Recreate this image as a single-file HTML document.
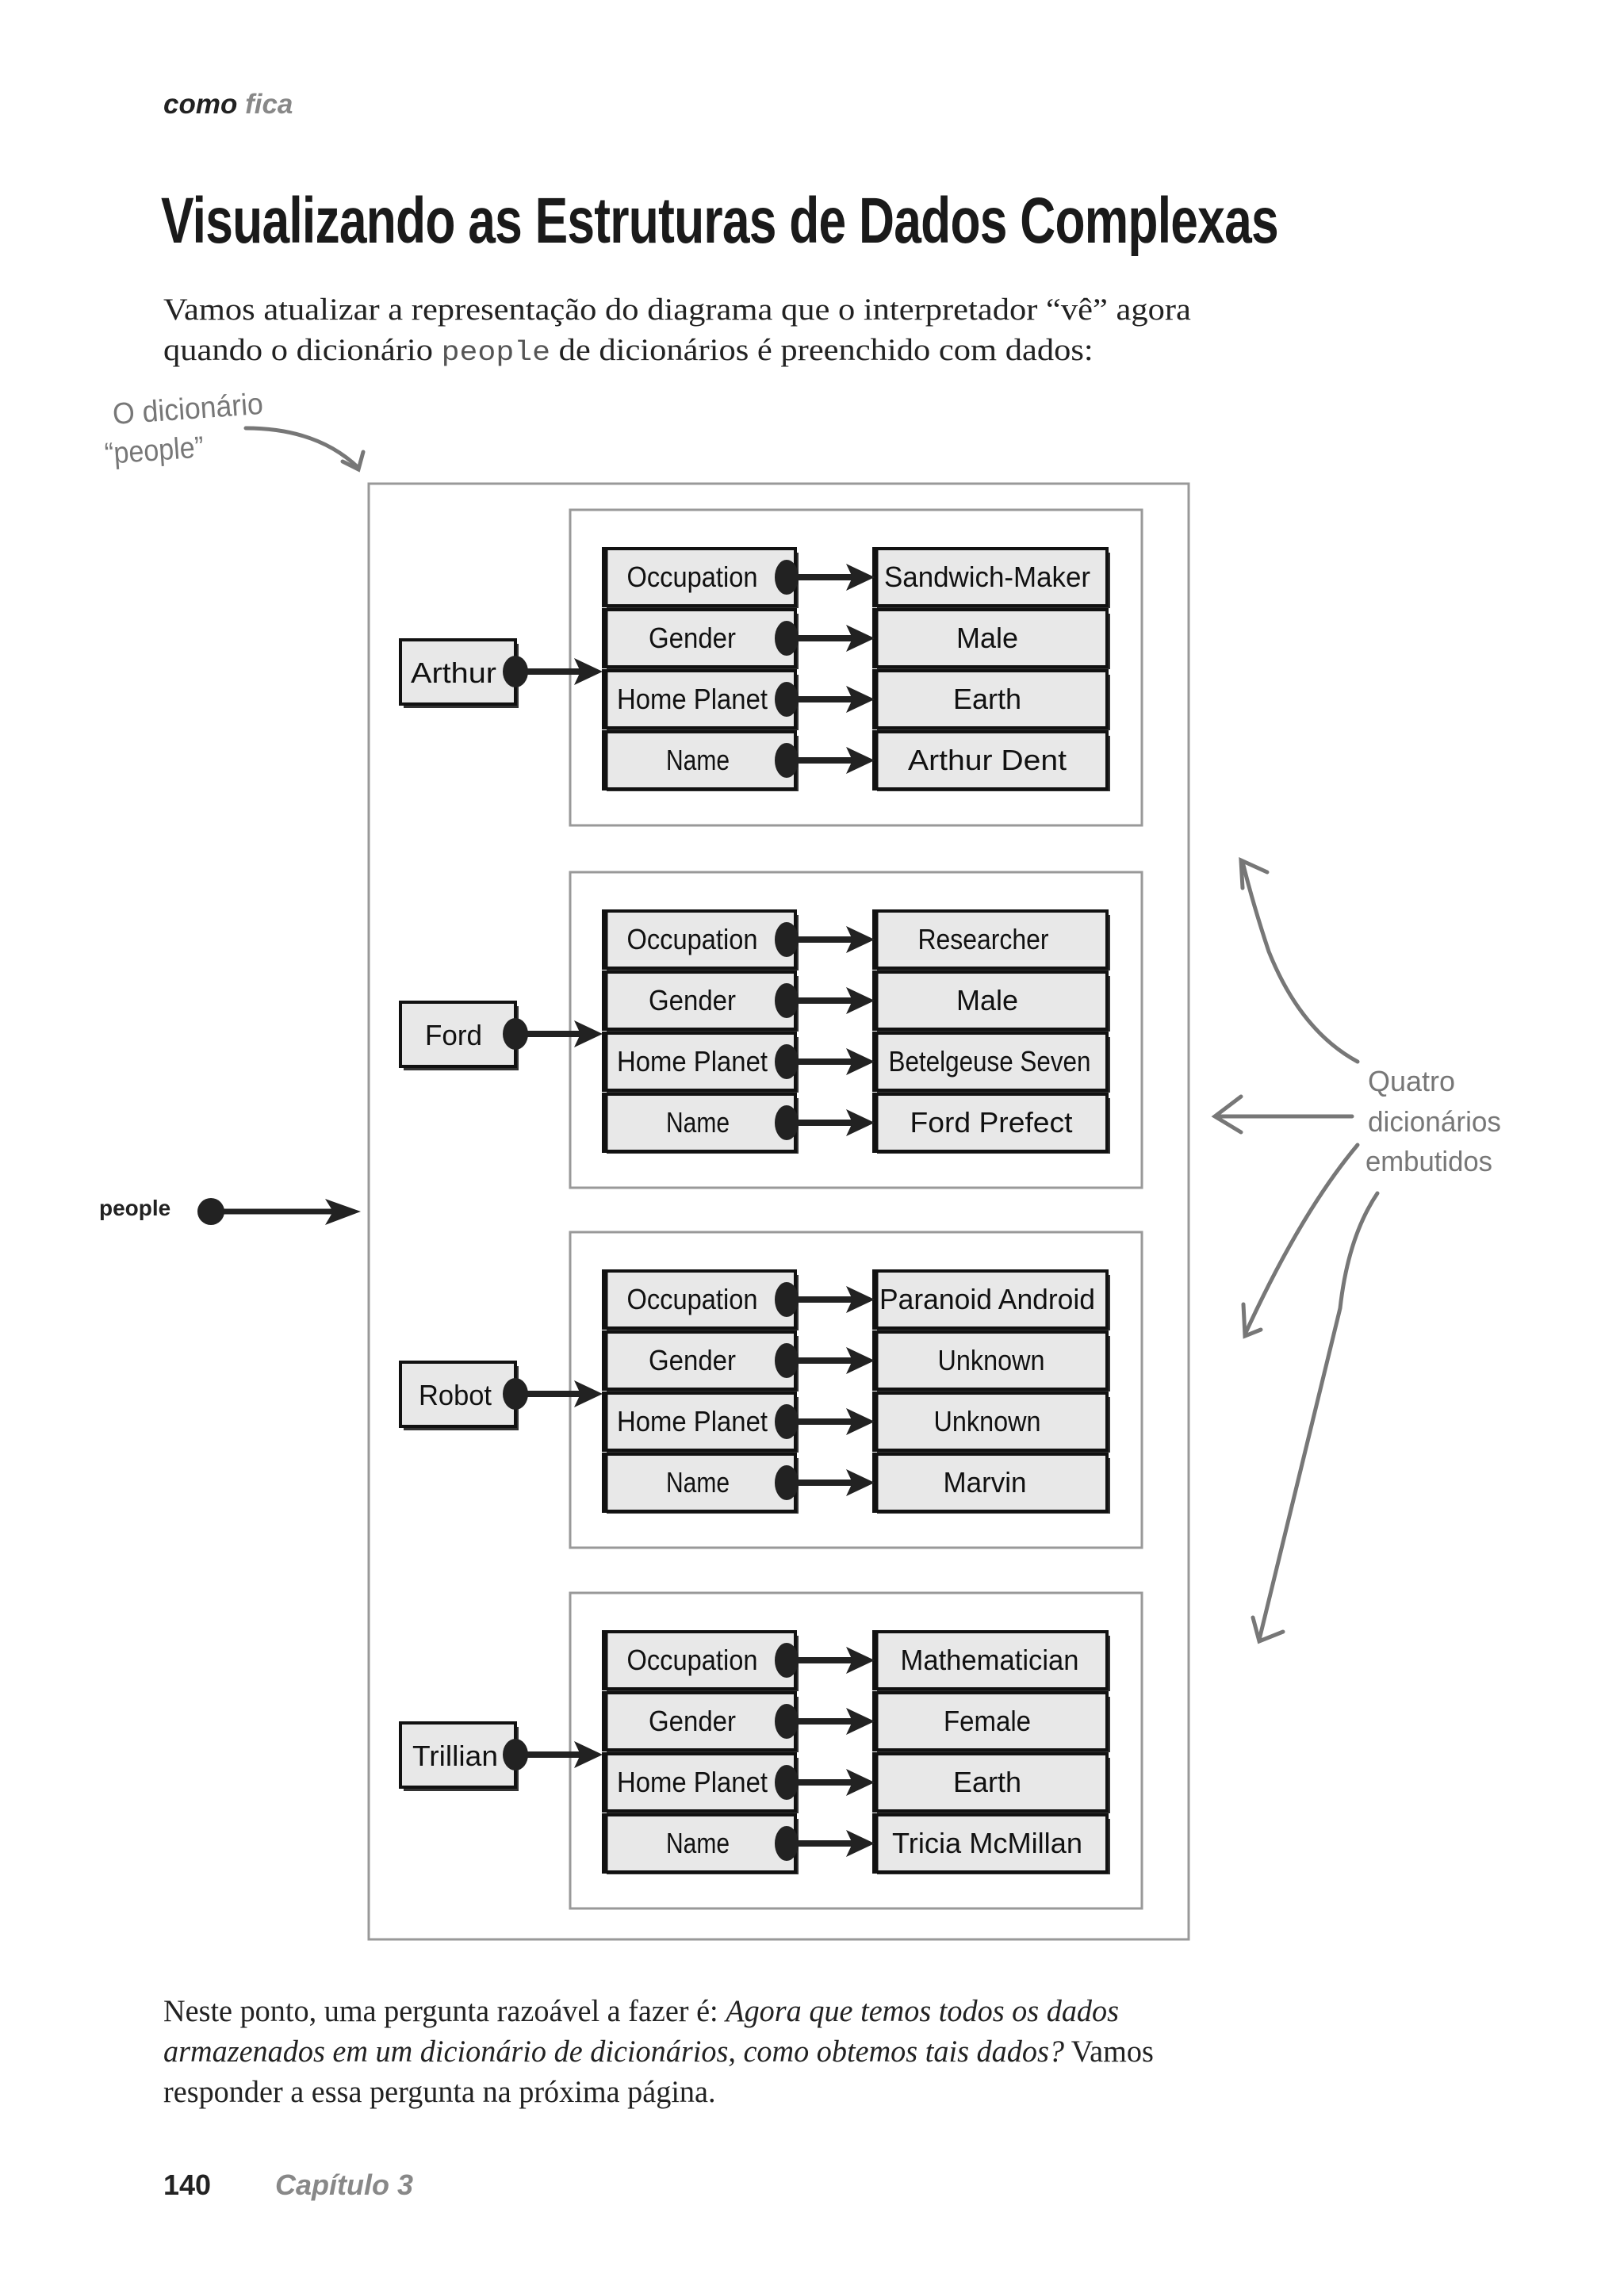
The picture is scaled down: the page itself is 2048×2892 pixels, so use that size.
<!DOCTYPE html>
<html><head><meta charset="utf-8"><style>
body{margin:0;background:#fff;}
#p{position:relative;width:2048px;height:2892px;overflow:hidden;background:#fff;}
.t{position:absolute;white-space:nowrap;transform-origin:left top;}
.ser{font-family:"Liberation Serif",serif;font-size:39px;color:#222;}
</style></head><body><div id="p">
<div class="t" style="left:206px;top:112px;font-family:'Liberation Sans',sans-serif;font-weight:bold;font-style:italic;font-size:35px;color:#222">como <span style="color:#888">fica</span></div>
<div class="t" style="left:203px;top:232px;font-family:'Liberation Sans',sans-serif;font-weight:bold;font-size:82px;color:#1a1a1a;letter-spacing:-1px;transform:scaleX(0.76)">Visualizando as Estruturas de Dados Complexas</div>
<div class="t ser" style="left:206px;top:368px;transform:scaleX(1.09)">Vamos atualizar a representação do diagrama que o interpretador “vê” agora</div>
<div class="t ser" style="left:206px;top:419px;transform:scaleX(1.09)">quando o dicionário <span style="font-family:'Liberation Mono',monospace;font-size:35px;color:#555">people</span> de dicionários é preenchido com dados:</div>
<div class="t ser" style="left:206px;top:2514px;transform:scaleX(0.98)">Neste ponto, uma pergunta razoável a fazer é: <i>Agora que temos todos os dados</i></div>
<div class="t ser" style="left:206px;top:2565px;transform:scaleX(0.98)"><i>armazenados em um dicionário de dicionários, como obtemos tais dados?</i> Vamos</div>
<div class="t ser" style="left:206px;top:2616px;transform:scaleX(0.98)">responder a essa pergunta na próxima página.</div>
<div class="t" style="left:206px;top:2735px;font-family:'Liberation Sans',sans-serif;font-weight:bold;font-size:36px;color:#222">140</div>
<div class="t" style="left:347px;top:2735px;font-family:'Liberation Sans',sans-serif;font-weight:bold;font-style:italic;font-size:36px;color:#888">Capítulo 3</div>

<svg width="2048" height="2892" style="position:absolute;left:0;top:0" xmlns="http://www.w3.org/2000/svg">
<defs>
<g id="kc"><rect x="4" y="5" width="242" height="70" fill="#333"/><rect x="0" y="0" width="242" height="72" fill="#e8e8e8" stroke="#111" stroke-width="4"/><line x1="2" y1="2" x2="2" y2="70" stroke="#111" stroke-width="7"/></g>
<g id="vc"><rect x="4" y="5" width="294" height="70" fill="#333"/><rect x="0" y="0" width="294" height="72" fill="#e8e8e8" stroke="#111" stroke-width="4"/><line x1="2" y1="2" x2="2" y2="70" stroke="#111" stroke-width="7"/></g>
<g id="nc"><rect x="4" y="5" width="145" height="81" fill="#333"/><rect x="0" y="0" width="145" height="81" fill="#e8e8e8" stroke="#111" stroke-width="4"/></g>
<g id="ar"><line x1="0" y1="0" x2="80" y2="0" stroke="#222" stroke-width="8"/><path d="M72 -17 L108 0 L72 17 L80 0 Z" fill="#222"/></g>
<g id="row"><use href="#kc" x="761"/><use href="#vc" x="1102"/><ellipse cx="992" cy="36" rx="15" ry="22" fill="#222"/><use href="#ar" x="995" y="36"/></g>
<g id="blk">
<rect x="719" y="0" width="721" height="398" fill="none" stroke="#999" stroke-width="3"/>
<use href="#row" y="49"/><use href="#row" y="126"/><use href="#row" y="203"/><use href="#row" y="280"/>
<use href="#nc" x="505" y="164"/><ellipse cx="650" cy="204" rx="16" ry="20" fill="#222"/><use href="#ar" x="652" y="204"/>
</g>
</defs>
<rect x="465" y="610" width="1034" height="1836" fill="none" stroke="#999" stroke-width="3"/>
<g font-family="'Liberation Sans',sans-serif" font-size="36" fill="#111" text-anchor="middle">
<g transform="translate(0,643)"><use href="#blk"/>
<text x="873" y="97" textLength="165" lengthAdjust="spacingAndGlyphs">Occupation</text><text x="873" y="174" textLength="110" lengthAdjust="spacingAndGlyphs">Gender</text><text x="873" y="251" textLength="190" lengthAdjust="spacingAndGlyphs">Home Planet</text><text x="880" y="328" textLength="80" lengthAdjust="spacingAndGlyphs">Name</text>
<text x="1245" y="97" textLength="260" lengthAdjust="spacingAndGlyphs">Sandwich-Maker</text><text x="1245" y="174">Male</text><text x="1245" y="251">Earth</text><text x="1245" y="328" textLength="200" lengthAdjust="spacingAndGlyphs">Arthur Dent</text>
<text x="572" y="218" textLength="108" lengthAdjust="spacingAndGlyphs">Arthur</text></g>
<g transform="translate(0,1100)"><use href="#blk"/>
<text x="873" y="97" textLength="165" lengthAdjust="spacingAndGlyphs">Occupation</text><text x="873" y="174" textLength="110" lengthAdjust="spacingAndGlyphs">Gender</text><text x="873" y="251" textLength="190" lengthAdjust="spacingAndGlyphs">Home Planet</text><text x="880" y="328" textLength="80" lengthAdjust="spacingAndGlyphs">Name</text>
<text x="1240" y="97" textLength="165" lengthAdjust="spacingAndGlyphs">Researcher</text><text x="1245" y="174">Male</text><text x="1248" y="251" textLength="255" lengthAdjust="spacingAndGlyphs">Betelgeuse Seven</text><text x="1250" y="328" textLength="205" lengthAdjust="spacingAndGlyphs">Ford Prefect</text>
<text x="572" y="218" textLength="72" lengthAdjust="spacingAndGlyphs">Ford</text></g>
<g transform="translate(0,1554)"><use href="#blk"/>
<text x="873" y="97" textLength="165" lengthAdjust="spacingAndGlyphs">Occupation</text><text x="873" y="174" textLength="110" lengthAdjust="spacingAndGlyphs">Gender</text><text x="873" y="251" textLength="190" lengthAdjust="spacingAndGlyphs">Home Planet</text><text x="880" y="328" textLength="80" lengthAdjust="spacingAndGlyphs">Name</text>
<text x="1245" y="97" textLength="272" lengthAdjust="spacingAndGlyphs">Paranoid Android</text><text x="1250" y="174" textLength="135" lengthAdjust="spacingAndGlyphs">Unknown</text><text x="1245" y="251" textLength="135" lengthAdjust="spacingAndGlyphs">Unknown</text><text x="1242" y="328" textLength="105" lengthAdjust="spacingAndGlyphs">Marvin</text>
<text x="574" y="218" textLength="92" lengthAdjust="spacingAndGlyphs">Robot</text></g>
<g transform="translate(0,2009)"><use href="#blk"/>
<text x="873" y="97" textLength="165" lengthAdjust="spacingAndGlyphs">Occupation</text><text x="873" y="174" textLength="110" lengthAdjust="spacingAndGlyphs">Gender</text><text x="873" y="251" textLength="190" lengthAdjust="spacingAndGlyphs">Home Planet</text><text x="880" y="328" textLength="80" lengthAdjust="spacingAndGlyphs">Name</text>
<text x="1248" y="97" textLength="225" lengthAdjust="spacingAndGlyphs">Mathematician</text><text x="1245" y="174" textLength="110" lengthAdjust="spacingAndGlyphs">Female</text><text x="1245" y="251">Earth</text><text x="1245" y="328" textLength="240" lengthAdjust="spacingAndGlyphs">Tricia McMillan</text>
<text x="574" y="218" textLength="108" lengthAdjust="spacingAndGlyphs">Trillian</text></g>
</g>
<text x="125" y="1533" font-family="'Liberation Sans',sans-serif" font-weight="bold" font-size="28" fill="#222">people</text>
<circle cx="266" cy="1528" r="17" fill="#222"/>
<line x1="266" y1="1528" x2="420" y2="1528" stroke="#222" stroke-width="7"/>
<path d="M410 1512 L455 1528 L410 1545 L420 1528 Z" fill="#222"/>
<g fill="#777" font-family="'Liberation Sans',sans-serif" font-size="38">
<text x="143" y="535" transform="rotate(-4 143 535)" textLength="190" lengthAdjust="spacingAndGlyphs">O dicionário</text>
<text x="133" y="585" transform="rotate(-4 133 585)" textLength="125" lengthAdjust="spacingAndGlyphs">“people”</text>
<text x="1725" y="1376" font-size="36" textLength="110" lengthAdjust="spacingAndGlyphs">Quatro</text>
<text x="1725" y="1427" font-size="36" textLength="168" lengthAdjust="spacingAndGlyphs">dicionários</text>
<text x="1722" y="1477" font-size="36" textLength="160" lengthAdjust="spacingAndGlyphs">embutidos</text>
</g>
<g fill="none" stroke="#777" stroke-width="5" stroke-linecap="round">
<path d="M310 540 Q400 540 452 590"/><path d="M432 582 L452 592 L458 570"/>
<path d="M1712 1339 Q1640 1300 1600 1200 Q1580 1140 1567 1087"/><path d="M1567 1120 L1565 1085 L1598 1100"/>
<path d="M1705 1408 L1535 1408"/><path d="M1565 1383 L1532 1408 L1565 1428"/>
<path d="M1712 1444 Q1640 1530 1570 1683"/><path d="M1568 1645 L1570 1685 L1590 1677"/>
<path d="M1737 1505 Q1700 1560 1690 1650 L1588 2068"/><path d="M1580 2040 L1588 2070 L1618 2058"/>
</g>
</svg>
</div></body></html>
